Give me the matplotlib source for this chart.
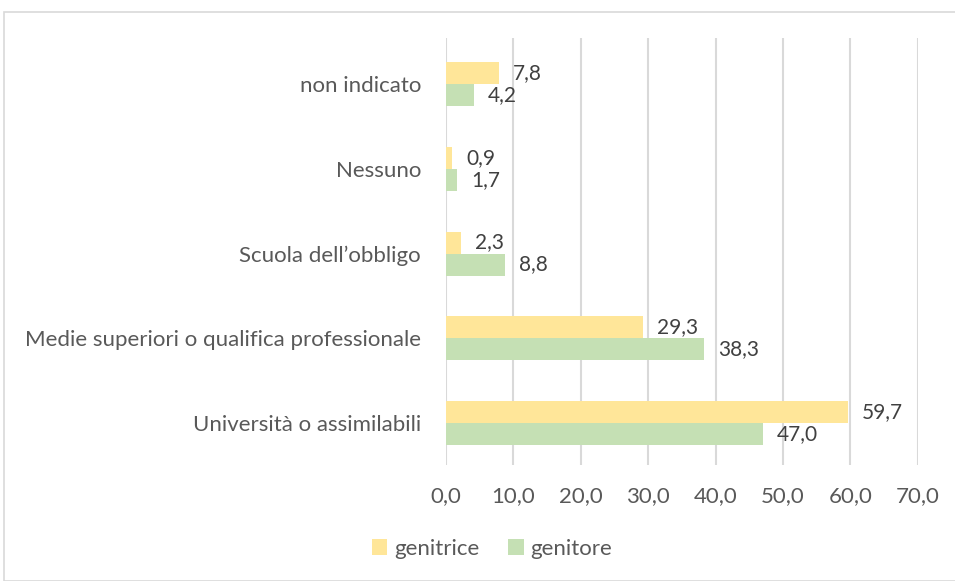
import matplotlib
matplotlib.use("Agg")
from matplotlib import pyplot as plt
from matplotlib.patches import Rectangle
import numpy as np

categories = ["Università o assimilabili", "Medie superiori o qualifica professionale",
              "Scuola dell’obbligo", "Nessuno", "non indicato"]
genitrice = [59.7, 29.3, 2.3, 0.9, 7.8]
genitore = [47.0, 38.3, 8.8, 1.7, 4.2]
xticks = [0, 10, 20, 30, 40, 50, 60, 70]

plt.rcParams['font.family'] = ['Lato', 'DejaVu Sans']
txt = '#595959'

fig = plt.figure(figsize=(9.55, 5.81), dpi=100)
ax = fig.add_axes([0.467, 0.1997, 0.494, 0.735])

y = np.arange(len(categories))
h = 0.26
b1 = ax.barh(y + h / 2, genitrice, height=h, color='#FFE699', label='genitrice', zorder=3)
b2 = ax.barh(y - h / 2, genitore, height=h, color='#C5E0B4', label='genitore', zorder=3)

for bars in (b1, b2):
    for r in bars:
        v = r.get_width()
        ax.annotate(f"{v:.1f}".replace('.', ','), (v, r.get_y() + r.get_height() / 2),
                    xytext=(10, 0), textcoords='offset points', va='center', ha='left',
                    fontsize=15, color='#404040')

ax.set_xlim(0, 70)
ax.set_ylim(-0.5, 4.55)
ax.set_xticks(xticks)
ax.set_xticklabels([f"{t:.1f}".replace('.', ',') for t in xticks], fontsize=16, color=txt)
ax.set_yticks(y)
ax.set_yticklabels(categories, fontsize=16, color=txt)
ax.tick_params(axis='x', length=0, pad=15)
ax.tick_params(axis='y', length=0, pad=18)
ax.xaxis.grid(True, color='#D9D9D9', linewidth=1.5, zorder=0)
for s in ax.spines.values():
    s.set_visible(False)

fig.legend(handles=[b1, b2], loc='center', bbox_to_anchor=(0.515, 0.055), ncol=2,
           frameon=False, fontsize=16, labelcolor=txt, handlelength=0.7, handleheight=0.7,
           columnspacing=1.3, handletextpad=0.3)

fig.patches.append(Rectangle((4 / 955, 0), 1.0, 1 - 12 / 581, transform=fig.transFigure,
                             fill=False, edgecolor='#D9D9D9', linewidth=1.2))

plt.savefig('out.png', dpi=100)
